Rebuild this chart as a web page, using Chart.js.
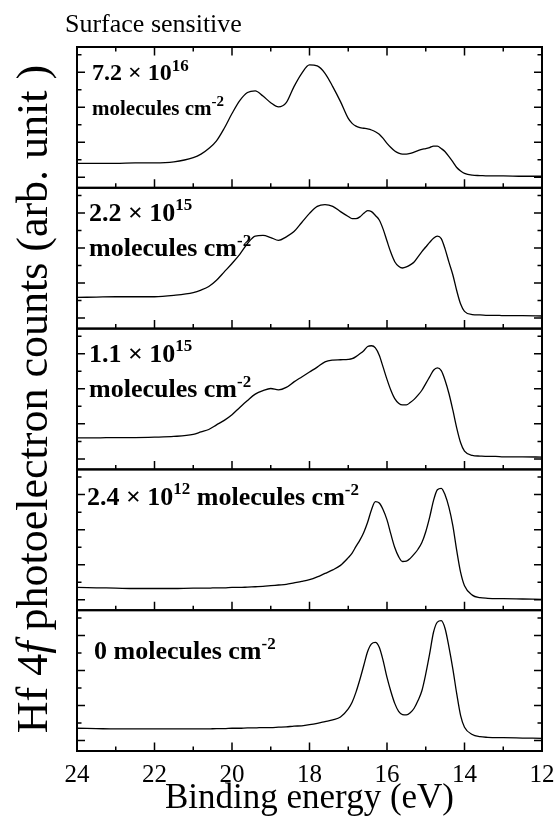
<!DOCTYPE html>
<html>
<head>
<meta charset="utf-8">
<title>Hf 4f surface sensitive</title>
<script src="https://cdn.jsdelivr.net/npm/chart.js@4.4.1/dist/chart.umd.min.js"></script>
<style>
  html, body { margin: 0; padding: 0; background: #fff; }
  #wrap { width: 557px; height: 816px; }
</style>
</head>
<body>
<div id="wrap"><canvas id="hfChart" width="557" height="816" style="width:557px;height:816px"></canvas></div>
<script>
// binding energy (eV), listed high -> low so the reversed axis runs left to right
var energies = [24, 23.5, 23, 22.5, 22, 21.5, 21,
    20.8, 20.6, 20.4, 20.2, 20.0, 19.8, 19.6, 19.4, 19.2, 19.0, 18.8, 18.6, 18.4, 18.2, 18.0, 17.8, 17.6, 17.4, 17.2,
    17.0, 16.9, 16.8, 16.7, 16.6, 16.5, 16.4, 16.3, 16.2, 16.1, 16.0, 15.9, 15.8, 15.7, 15.6, 15.5, 15.4, 15.3, 15.2, 15.1,
    15.0, 14.9, 14.8, 14.7, 14.6, 14.5, 14.4, 14.3, 14.2, 14.1, 14.0,
    13.8, 13.6, 13.4, 13.2, 13.0, 12.5, 12.0];

// photoelectron counts (arb. unit), one array per exposure
var counts72e16 = [0.40, 0.40, 0.40, 0.41, 0.41, 0.44, 0.56,
    0.66, 0.82, 1.04, 1.40, 1.82, 2.19, 2.42, 2.47, 2.32, 2.13, 2.01, 2.13, 2.59, 2.97, 3.21, 3.18, 2.97, 2.59, 2.16,
    1.68, 1.54, 1.46, 1.42, 1.40, 1.38, 1.35, 1.30, 1.23, 1.11, 0.97, 0.85, 0.75, 0.69, 0.66, 0.66, 0.68, 0.72, 0.76, 0.80,
    0.82, 0.85, 0.89, 0.89, 0.82, 0.73, 0.59, 0.44, 0.28, 0.18, 0.11,
    0.06, 0.05, 0.04, 0.04, 0.04, 0.03, 0.03];
var counts22e15 = [0.59, 0.60, 0.61, 0.61, 0.61, 0.65, 0.73,
    0.80, 0.90, 1.08, 1.32, 1.56, 1.82, 2.13, 2.34, 2.36, 2.30, 2.22, 2.32, 2.47, 2.73, 2.99, 3.19, 3.24, 3.19, 3.04,
    2.90, 2.84, 2.84, 2.89, 2.99, 3.07, 3.04, 2.93, 2.80, 2.54, 2.20, 1.87, 1.61, 1.48, 1.43, 1.46, 1.52, 1.60, 1.75, 1.90,
    2.03, 2.16, 2.28, 2.34, 2.27, 1.97, 1.59, 1.23, 0.78, 0.40, 0.19,
    0.10, 0.09, 0.08, 0.08, 0.07, 0.07, 0.06];
var counts11e15 = [0.60, 0.60, 0.61, 0.61, 0.62, 0.64, 0.70,
    0.77, 0.84, 0.97, 1.10, 1.26, 1.47, 1.67, 1.85, 1.95, 2.01, 1.97, 2.04, 2.20, 2.34, 2.48, 2.62, 2.77, 2.82, 2.83,
    2.84, 2.86, 2.92, 3.00, 3.09, 3.21, 3.23, 3.17, 2.96, 2.62, 2.27, 1.96, 1.72, 1.59, 1.54, 1.54, 1.61, 1.70, 1.82, 1.96,
    2.15, 2.34, 2.53, 2.60, 2.52, 2.24, 1.86, 1.39, 0.88, 0.46, 0.22,
    0.10, 0.08, 0.07, 0.07, 0.06, 0.06, 0.05];
var counts24e12 = [0.35, 0.34, 0.33, 0.32, 0.32, 0.32, 0.33,
    0.33, 0.33, 0.34, 0.34, 0.35, 0.35, 0.36, 0.37, 0.38, 0.40, 0.42, 0.44, 0.48, 0.52, 0.57, 0.65, 0.75, 0.85, 0.98,
    1.20, 1.33, 1.52, 1.70, 1.92, 2.21, 2.57, 2.80, 2.76, 2.57, 2.28, 1.87, 1.49, 1.23, 1.09, 1.10, 1.18, 1.30, 1.44, 1.63,
    1.94, 2.35, 2.83, 3.14, 3.18, 2.99, 2.63, 2.11, 1.40, 0.78, 0.40,
    0.13, 0.06, 0.04, 0.03, 0.03, 0.02, 0.01];
var counts0 = [0.35, 0.34, 0.33, 0.33, 0.33, 0.33, 0.33,
    0.33, 0.33, 0.34, 0.34, 0.35, 0.35, 0.36, 0.36, 0.37, 0.37, 0.38, 0.39, 0.41, 0.42, 0.45, 0.49, 0.54, 0.59, 0.67,
    0.90, 1.09, 1.38, 1.74, 2.14, 2.54, 2.76, 2.80, 2.66, 2.28, 1.80, 1.40, 1.06, 0.83, 0.74, 0.73, 0.79, 0.92, 1.14, 1.42,
    1.90, 2.47, 3.09, 3.38, 3.42, 3.19, 2.66, 2.04, 1.33, 0.71, 0.38,
    0.17, 0.11, 0.09, 0.08, 0.08, 0.07, 0.06];

// exposure labels, top panel first
var coverageMantissa = ['7.2', '2.2', '1.1', '2.4', '0'];
var coverageExponent = ['16', '15', '15', '12', null];
var energyTicks = [24, 22, 20, 18, 16, 14, 12];

var panelSeries = [counts72e16, counts22e15, counts11e15, counts24e12, counts0];
var panelIds = ['y0', 'y1', 'y2', 'y3', 'y4'];
var serif = '"Liberation Serif", "Times New Roman", serif';

Chart.defaults.font.family = serif;
Chart.defaults.color = '#000';

// draws text pieces one after another, some raised as superscripts
function drawRich(ctx, x, y, parts) {
    parts.forEach(function(p) {
        ctx.font = p.font;
        ctx.fillText(p.text, x, y - (p.rise || 0));
        x += ctx.measureText(p.text).width;
    });
    return x;
}

function measureRich(ctx, parts) {
    var w = 0;
    parts.forEach(function(p) {
        ctx.font = p.font;
        w += ctx.measureText(p.text).width;
    });
    return w;
}

var framePlugin = {
    id: 'framePlugin',
    afterDatasetsDraw: function(chart) {
        var ctx = chart.ctx;
        var xs = chart.scales.x;
        ctx.save();
        ctx.strokeStyle = '#000';
        panelIds.forEach(function(id, i) {
            var ys = chart.scales[id];
            var left = xs.left, right = xs.right, top = ys.top, bottom = ys.bottom;
            ctx.lineWidth = 1.5;
            ctx.beginPath();
            // inward ticks on the left and right edges
            for (var v = Math.ceil(ys.min * 2) / 2; v <= ys.max; v += 0.5) {
                var y = ys.getPixelForValue(v);
                var len = Number.isInteger(v) ? 8 : 4.5;
                ctx.moveTo(left, y); ctx.lineTo(left + len, y);
                ctx.moveTo(right, y); ctx.lineTo(right - len, y);
            }
            // energy ticks on the bottom edge of every panel, top edge of the first
            for (var e = xs.min + 1; e < xs.max; e++) {
                var x = xs.getPixelForValue(e);
                var l = (e % 2 === 0) ? 8.5 : 4.5;
                ctx.moveTo(x, bottom); ctx.lineTo(x, bottom - l);
                if (i === 0) { ctx.moveTo(x, top); ctx.lineTo(x, top + l); }
            }
            ctx.stroke();
            ctx.lineWidth = 2;
            ctx.strokeRect(left, top, right - left, bottom - top);
        });
        ctx.restore();
    },
    afterDraw: function(chart) {
        var ctx = chart.ctx;
        var xs = chart.scales.x;
        ctx.save();
        ctx.fillStyle = '#000';
        ctx.textBaseline = 'alphabetic';
        ctx.textAlign = 'left';

        ctx.font = '26px ' + serif;
        ctx.fillText('Surface sensitive', 65, 32);

        // exposure labels inside each panel
        var big = 'bold 26px ' + serif, sup = 'bold 17px ' + serif;
        panelIds.forEach(function(id, i) {
            var top = chart.scales[id].top;
            var m = coverageMantissa[i], ex = coverageExponent[i];
            if (i === 0) {
                drawRich(ctx, xs.left + 15, top + 33, [
                    { text: m + ' \u00d7 10', font: 'bold 24px ' + serif },
                    { text: ex, font: 'bold 17px ' + serif, rise: 9 }]);
                drawRich(ctx, xs.left + 15, top + 68, [
                    { text: 'molecules cm', font: 'bold 21px ' + serif },
                    { text: '-2', font: 'bold 15px ' + serif, rise: 9 }]);
            } else if (i < 3) {
                drawRich(ctx, xs.left + 12, top + 33, [
                    { text: m + ' \u00d7 10', font: big },
                    { text: ex, font: sup, rise: 11 }]);
                drawRich(ctx, xs.left + 12, top + 68.5, [
                    { text: 'molecules cm', font: big },
                    { text: '-2', font: sup, rise: 10 }]);
            } else if (ex) {
                drawRich(ctx, xs.left + 10, top + 36, [
                    { text: m + ' \u00d7 10', font: big },
                    { text: ex, font: sup, rise: 11 },
                    { text: ' molecules cm', font: big },
                    { text: '-2', font: sup, rise: 10 }]);
            } else {
                drawRich(ctx, xs.left + 17, top + 49, [
                    { text: m + ' molecules cm', font: big },
                    { text: '-2', font: sup, rise: 10 }]);
            }
        });

        // y title spanning all panels, with italic f
        var parts = [
            { text: 'Hf 4', font: '44px ' + serif },
            { text: 'f', font: 'italic 44px ' + serif },
            { text: ' photoelectron counts (arb. unit )', font: '44px ' + serif }];
        var area = chart.chartArea;
        ctx.translate(47, (area.top + area.bottom) / 2);
        ctx.rotate(-Math.PI / 2);
        drawRich(ctx, -measureRich(ctx, parts) / 2, 0, parts);
        ctx.restore();
    }
};

var scales = {
    x: {
        type: 'linear',
        position: 'bottom',
        reverse: true,
        min: 12,
        max: 24,
        afterBuildTicks: function(scale) {
            scale.ticks = energyTicks.map(function(v) { return { value: v }; });
        },
        afterFit: function(scale) {
            scale.height = 65;
            scale.paddingLeft = 0;
            scale.paddingRight = 0;
        },
        grid: { display: false },
        border: { display: false },
        ticks: { padding: 1, maxRotation: 0, autoSkip: false, font: { size: 25 } },
        title: {
            display: true,
            text: 'Binding energy (eV)',
            font: { size: 35, lineHeight: 1 },
            padding: { top: 0, bottom: 0 }
        }
    }
};
// first defined axis sits at the bottom of the stack
for (var k = panelIds.length - 1; k >= 0; k--) {
    scales[panelIds[k]] = {
        type: 'linear',
        position: 'left',
        stack: 'panels',
        stackWeight: 1,
        min: -0.3,
        max: 3.72,
        afterFit: function(scale) { scale.width = 0; },
        grid: { display: false },
        border: { display: false },
        ticks: { display: false }
    };
}

var datasets = panelSeries.map(function(series, i) {
    return {
        label: coverageMantissa[i],
        data: energies.map(function(e, j) { return { x: e, y: series[j] }; }),
        yAxisID: panelIds[i],
        borderColor: '#000',
        borderWidth: 1.3,
        pointRadius: 0,
        fill: false,
        cubicInterpolationMode: 'monotone'
    };
});

var hfChart = new Chart(document.getElementById('hfChart').getContext('2d'), {
    type: 'line',
    data: { datasets: datasets },
    options: {
        responsive: false,
        animation: false,
        devicePixelRatio: 1,
        layout: { padding: { left: 77, right: 15, top: 47, bottom: 0 } },
        plugins: { legend: { display: false }, tooltip: { enabled: false } },
        scales: scales
    },
    plugins: [framePlugin]
});
</script>
</body>
</html>
